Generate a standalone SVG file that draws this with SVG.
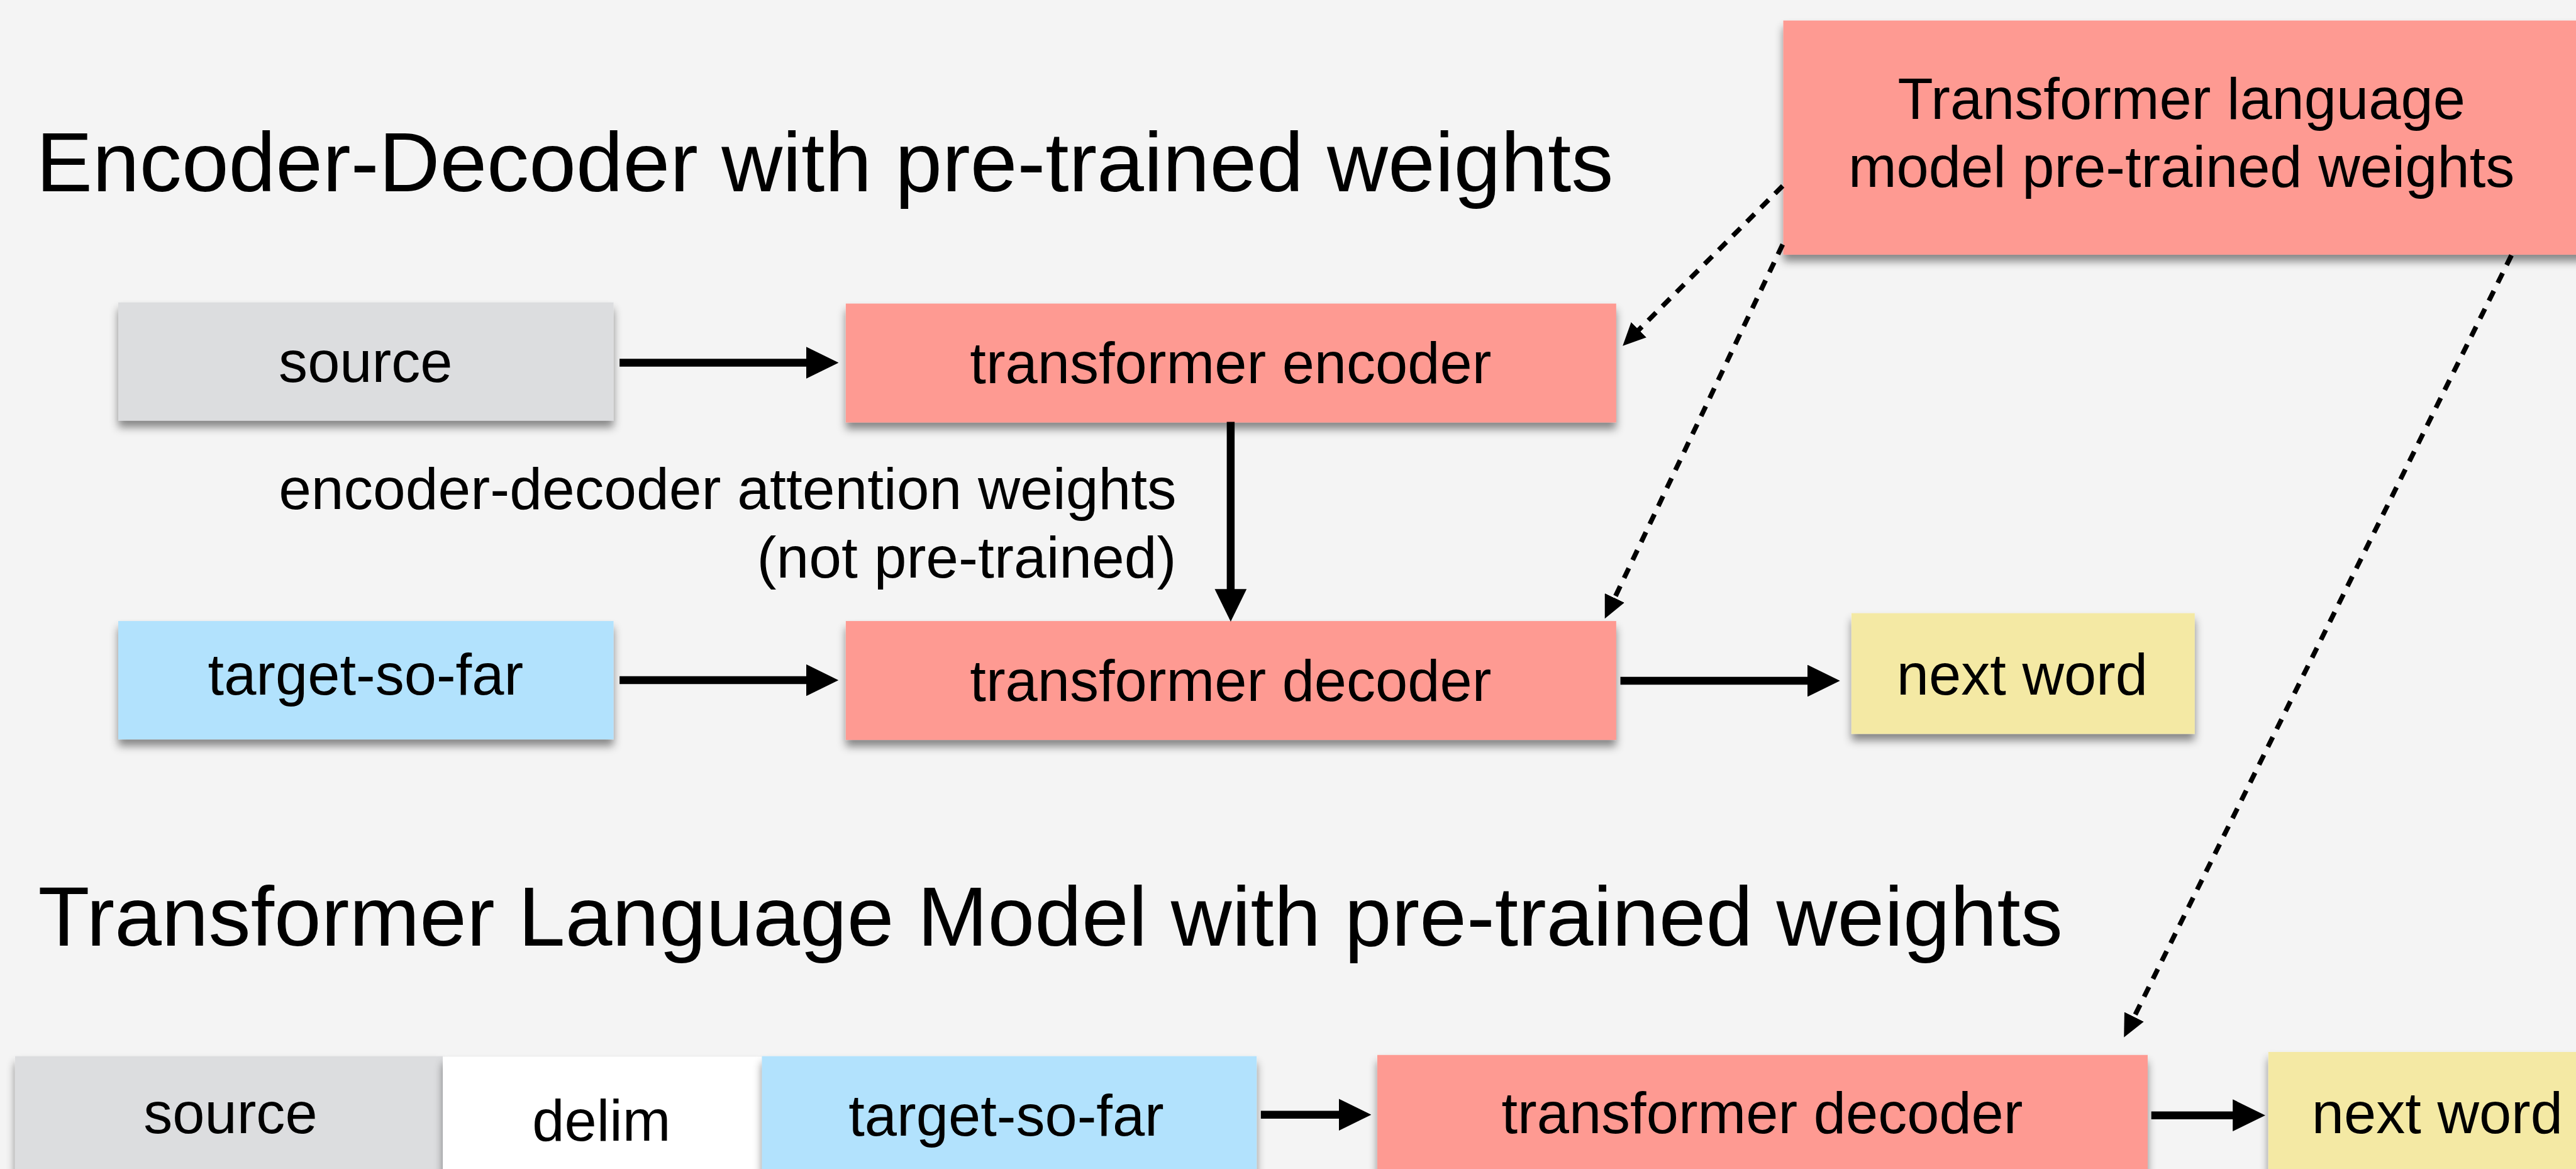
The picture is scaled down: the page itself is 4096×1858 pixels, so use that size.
<svg xmlns="http://www.w3.org/2000/svg" width="4096" height="1858" viewBox="0 0 4096 1858">
  <defs>
    <style>
      text { font-family: "Liberation Sans", Arial, Helvetica, sans-serif; fill: #000; }
      .title { font-size: 140px; }
      .lbl { font-size: 96px; text-anchor: middle; }
      .note { font-size: 97px; text-anchor: end; }
      .pink { fill: #FE9A92; }
      .gray { fill: #DCDDDF; }
      .blue { fill: #B2E2FD; }
      .yellow { fill: #F4E9A4; }
      .white { fill: #FFFFFF; }
      .solid { stroke: #000; stroke-width: 13; fill: none; marker-end: url(#headSolid); }
      .dashed { stroke: #000; stroke-width: 8; fill: none; stroke-dasharray: 18 15; marker-end: url(#headDash); }
    </style>
    <filter id="shadow" x="-10%" y="-20%" width="120%" height="150%">
      <feDropShadow dx="0" dy="11" stdDeviation="7" flood-color="#000" flood-opacity="0.45"/>
    </filter>
    <marker id="headSolid" markerUnits="userSpaceOnUse" markerWidth="54" markerHeight="53" refX="10" refY="26.5" orient="auto">
      <path d="M0,0 L54,26.5 L0,53 Z" fill="#000"/>
    </marker>
    <marker id="headDash" markerUnits="userSpaceOnUse" markerWidth="38" markerHeight="36" refX="8" refY="18" orient="auto">
      <path d="M0,0 L38,18 L0,36 Z" fill="#000"/>
    </marker>
  </defs>
  <rect x="0" y="0" width="4096" height="1858" fill="#F4F4F4"/>
  <g transform="scale(0.95925)">
    <text class="title" x="60" y="317">Encoder-Decoder with pre-trained weights</text>
    <text class="title" x="63" y="1567">Transformer Language Model with pre-trained weights</text>

    <g id="pretrained">
      <rect class="pink" x="2956" y="34" width="1330" height="388" filter="url(#shadow)"/>
      <text class="lbl" x="3616" y="197">Transformer language</text>
      <text class="lbl" x="3616" y="310">model pre-trained weights</text>
    </g>

    <g id="source1">
      <rect class="gray" x="196" y="501" width="821" height="196" filter="url(#shadow)"/>
      <text class="lbl" x="606" y="633">source</text>
    </g>
    <g id="encoder">
      <rect class="pink" x="1402" y="503" width="1277" height="197" filter="url(#shadow)"/>
      <text class="lbl" x="2040" y="635">transformer encoder</text>
    </g>
    <g id="target1">
      <rect class="blue" x="196" y="1029" width="821" height="196" filter="url(#shadow)"/>
      <text class="lbl" x="606" y="1151">target-so-far</text>
    </g>
    <g id="decoder1">
      <rect class="pink" x="1402" y="1029" width="1277" height="197" filter="url(#shadow)"/>
      <text class="lbl" x="2040" y="1161">transformer decoder</text>
    </g>
    <g id="nextword1">
      <rect class="yellow" x="3069" y="1016" width="569" height="200" filter="url(#shadow)"/>
      <text class="lbl" x="3352" y="1151">next word</text>
    </g>

    <g id="attn-label">
      <text class="note" x="1950" y="843">encoder-decoder attention weights</text>
      <text class="note" x="1950" y="957">(not pre-trained)</text>
    </g>

    <g id="source2">
      <rect class="gray" x="25" y="1750" width="709" height="250" filter="url(#shadow)"/>
      <text class="lbl" x="382" y="1877">source</text>
    </g>
    <g id="delim">
      <rect class="white" x="734" y="1751" width="529" height="250" filter="url(#shadow)"/>
      <text class="lbl" x="997" y="1890">delim</text>
    </g>
    <g id="target2">
      <rect class="blue" x="1263" y="1750" width="820" height="250" filter="url(#shadow)"/>
      <text class="lbl" x="1668" y="1882">target-so-far</text>
    </g>
    <g id="decoder2">
      <rect class="pink" x="2283" y="1748" width="1277" height="250" filter="url(#shadow)"/>
      <text class="lbl" x="2921" y="1878">transformer decoder</text>
    </g>
    <g id="nextword2">
      <rect class="yellow" x="3760" y="1743" width="560" height="250" filter="url(#shadow)"/>
      <text class="lbl" x="4040" y="1878">next word</text>
    </g>

    <g id="connectors">
      <path class="solid" d="M1027,601 L1346,601"/>
      <path class="solid" d="M1027,1127 L1346,1127"/>
      <path class="solid" d="M2040,699 L2040,986"/>
      <path class="solid" d="M2686,1128 L3006,1128"/>
      <path class="solid" d="M2090,1847 L2229,1847"/>
      <path class="solid" d="M3566,1848 L3711,1848"/>
      <path class="dashed" d="M2955,308 L2711,552"/>
      <path class="dashed" d="M2955,405 L2673,998"/>
      <path class="dashed" d="M4163,423 L3534,1692"/>
    </g>
  </g>
</svg>
